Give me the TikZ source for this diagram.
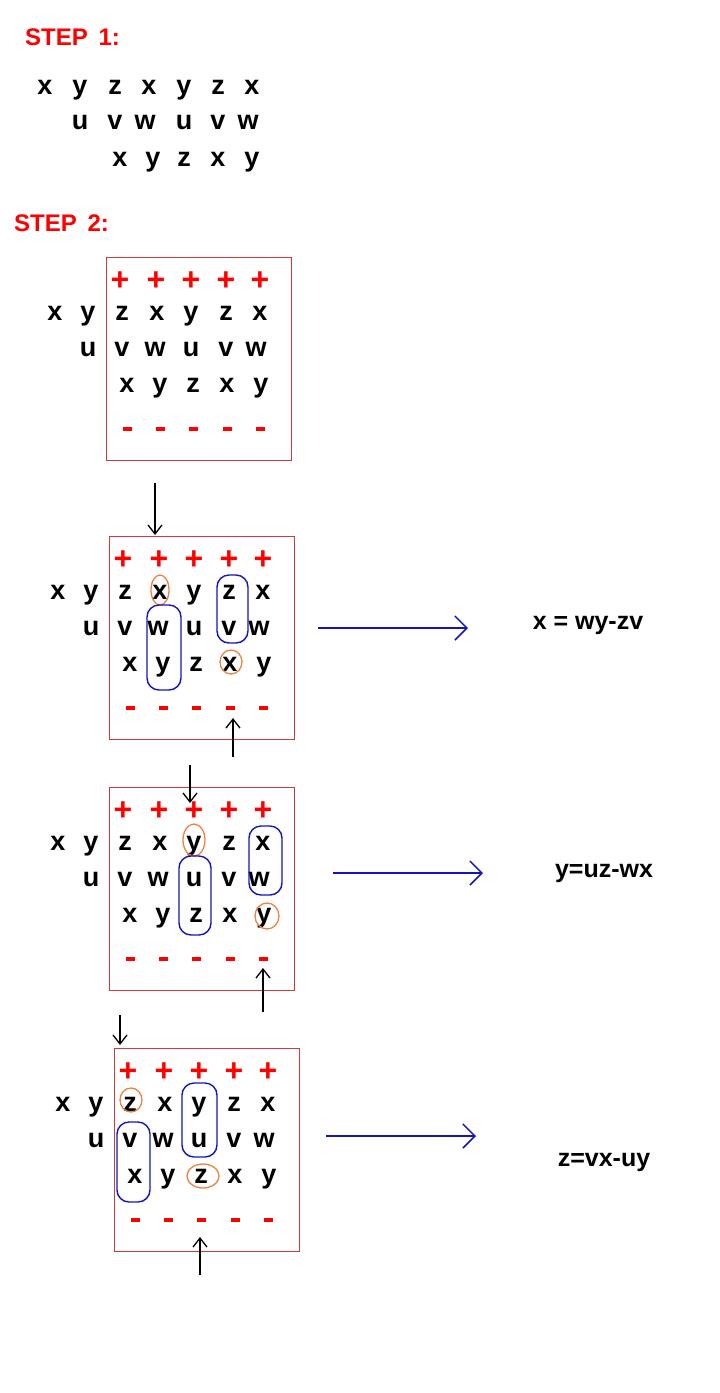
\documentclass[tikz,border=0pt]{standalone}
\usepackage{fontspec}
\setmainfont{Liberation Sans}
\usetikzlibrary{arrows.meta}
\definecolor{boxred}{RGB}{200,60,60}
\definecolor{ored}{RGB}{235,130,70}
\definecolor{bblue}{RGB}{20,20,190}
\tikzset{
 L/.style={font=\fontsize{27}{27}\selectfont\bfseries, inner sep=0pt, anchor=base},
 P/.style={font=\fontsize{32}{32}\selectfont\bfseries, text=red, inner sep=0pt},
 M/.style={fill=red, minimum width=9pt, minimum height=4.5pt, inner sep=0pt},
 stp/.style={font=\fontsize{24}{24}\selectfont\bfseries, text=red, inner sep=0pt, anchor=base west},
 box/.style={draw=boxred, line width=1pt},
 oc/.style={draw=ored, line width=1.3pt},
 bo/.style={draw=bblue, line width=1.4pt, rounded corners=12pt},
 dn/.style={-{Straight Barb[length=9pt,width=14pt]}, line width=1.3pt},
 ba/.style={draw=bblue, line width=1.5pt, -{Straight Barb[length=12pt,width=24pt]}},
 eq/.style={font=\fontsize{25}{25}\selectfont\bfseries, inner sep=0pt},
}
\newcommand\mygrid[1]{%
 \draw[box] (106,257) rectangle (291,460);
 \foreach \c/\x [count=\i] in {x/55,y/88,z/122,x/157,y/191,z/226,x/260}
   \node[L] (#1a\i) at (\x,320) {\c};
 \foreach \c/\x [count=\i] in {u/88,v/122,w/155,u/191,v/226,w/256}
   \node[L] (#1b\i) at (\x,356) {\c};
 \foreach \c/\x [count=\i] in {x/127,y/160,z/193,x/227,y/261}
   \node[L] (#1c\i) at (\x,392) {\c};
 \foreach \x [count=\i] in {120,156,191,226,260}
   \node[P] (#1p\i) at (\x,281) {+};
 \foreach \x [count=\i] in {127,160,193,227,260}
   \node[M] (#1m\i) at (\x,429) {};
}
\begin{document}
\begin{tikzpicture}[x=1pt,y=-1pt]
\useasboundingbox (0,0) rectangle (720,1393);
\node[stp] (s1) at (25,45) {STEP\, 1:};
\foreach \c/\x [count=\i] in {x/45,y/80,z/115,x/149,y/184,z/218,x/252}
  \node[L] (ra\i) at (\x,94) {\c};
\foreach \c/\x [count=\i] in {u/80,v/115,w/145,u/184,v/218,w/248}
  \node[L] (rb\i) at (\x,129) {\c};
\foreach \c/\x [count=\i] in {x/120,y/153,z/184,x/218,y/252}
  \node[L] (rc\i) at (\x,166) {\c};
\node[stp] (s2) at (14,231) {STEP\, 2:};

\begin{scope}\mygrid{A}\end{scope}

\begin{scope}[shift={(3,279)}]\mygrid{B}
 \draw[oc] (157,311) ellipse (9pt and 15pt);
 \draw[bo] (144,326) rectangle (178,411);
 \draw[bo] (214,296) rectangle (245,364);
 \draw[oc] (228,383) ellipse (11pt and 12pt);
\end{scope}
\coordinate (Bt) at (155,483); \coordinate (Bb) at (233,757);
\draw[dn] (Bt) -- (155,535);
\draw[dn] (Bb) -- (233,718);
\coordinate (Ba) at (318,628);
\node[eq] (e1) at (588,625) {x = wy-zv};
\draw[ba] (Ba) -- (468,628);

\begin{scope}[shift={(3,530)}]\mygrid{C}
 \draw[oc] (191,310) ellipse (11pt and 16pt);
 \draw[bo] (176,326) rectangle (208,405);
 \draw[bo] (246,296) rectangle (279,365);
 \draw[oc] (264,386) ellipse (12pt and 13pt);
\end{scope}
\coordinate (Ct) at (190,765); \coordinate (Cb) at (263,1012);
\draw[dn] (Ct) -- (190,803);
\draw[dn] (Cb) -- (263,968);
\coordinate (Ca) at (333,873);
\node[eq] (e2) at (604,873) {y=uz-wx};
\draw[ba] (Ca) -- (483,873);

\begin{scope}[shift={(8,791)}]\mygrid{D}
 \draw[oc] (123,309) ellipse (11pt and 12pt);
 \draw[bo] (109,331) rectangle (142,411);
 \draw[bo] (174,292) rectangle (209,366);
 \draw[oc] (195,385) ellipse (16pt and 12pt);
\end{scope}
\coordinate (Dt) at (120,1015); \coordinate (Db) at (200,1275);
\draw[dn] (Dt) -- (120,1045);
\draw[dn] (Db) -- (200,1237);
\coordinate (Da) at (326,1136);
\node[eq] (e3) at (604,1162) {z=vx-uy};
\draw[ba] (Da) -- (476,1136);
\end{tikzpicture}
\end{document}
